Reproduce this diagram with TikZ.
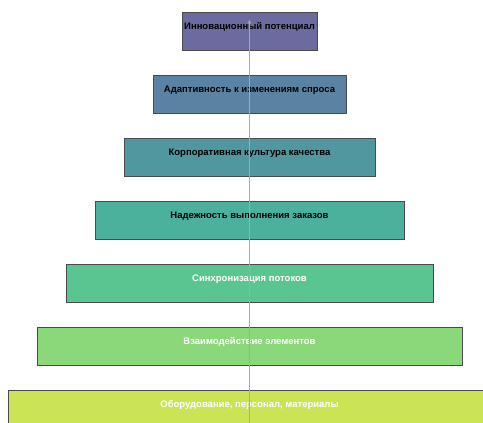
\documentclass[tikz,border=0pt]{standalone}
\usepackage{fontspec}
\setmainfont{Liberation Sans}
\usetikzlibrary{arrows.meta}
\definecolor{lvlA}{HTML}{6B6B9F}
\definecolor{lvlB}{HTML}{5A82A2}
\definecolor{lvlC}{HTML}{5197A0}
\definecolor{lvlD}{HTML}{4BB09C}
\definecolor{lvlE}{HTML}{5BC592}
\definecolor{lvlF}{HTML}{8AD87A}
\definecolor{lvlG}{HTML}{CBE455}
\definecolor{edge}{HTML}{4A4A4A}
\definecolor{axis}{HTML}{A8A8A8}
\tikzset{
  lvl/.style={draw=edge, line width=1pt, anchor=north, inner xsep=0pt, inner ysep=0pt,
    text height=17pt, text depth=21pt, font=\fontsize{9.5}{11}\selectfont\bfseries},
  flow/.style={draw=axis, line width=1.8pt, -{Stealth[length=4pt,width=4pt]}}
}
\begin{document}
\begin{tikzpicture}[x=1pt, y=-1pt]
\clip (0,0) rectangle (483,423);
\node[lvl, fill=lvlA, minimum width=135pt] (b1) at (249.5,12) {Инновационный потенциал};
\node[lvl, fill=lvlB, minimum width=193pt] (b2) at (249.5,75) {Адаптивность к изменениям спроса};
\node[lvl, fill=lvlC, minimum width=251pt] (b3) at (249.5,138) {Корпоративная культура качества};
\node[lvl, fill=lvlD, minimum width=309pt] (b4) at (249.5,201) {Надежность выполнения заказов};
\node[lvl, fill=lvlE, minimum width=367pt, text=white] (b5) at (249.5,264) {Синхронизация потоков};
\node[lvl, fill=lvlF, minimum width=425pt, text=white] (b6) at (249.5,327) {Взаимодействие элементов};
\node[lvl, fill=lvlG, minimum width=483pt, text=white] (b7) at (249.5,390) {Оборудование, персонал, материалы};
\coordinate (tip) at ([yshift=-8pt]b1.north);
\draw[flow] (b7.south) -- (tip);
\end{tikzpicture}
\end{document}
